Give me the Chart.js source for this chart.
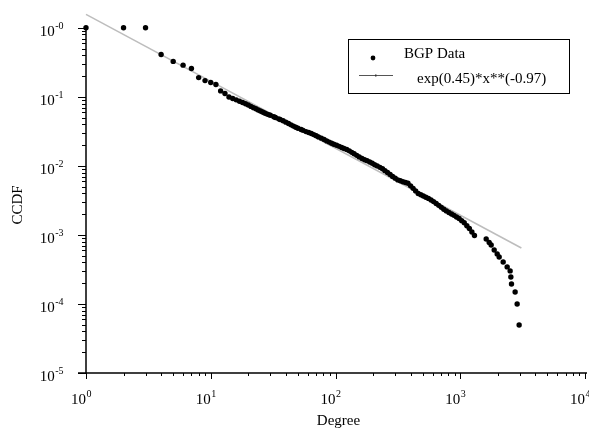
<!DOCTYPE html>
<html>
<head>
<meta charset="utf-8">
<script src="https://cdn.jsdelivr.net/npm/chart.js@4/dist/chart.umd.min.js"></script>
<style>
  body { margin: 0; background: #fff; }
  #wrap { width: 589px; height: 431px; }
</style>
</head>
<body>
<div id="wrap"><canvas id="ccdfChart" width="589" height="431"></canvas></div>
<script>
// BGP degree CCDF
const degree = [1, 2, 3, 4, 5, 6, 7, 8, 9, 10, 11, 12, 13, 14, 15, 16, 17, 18, 19, 20,
  21, 22, 23, 24, 25, 26, 27, 28, 29, 30, 32, 33, 35, 36, 38, 40, 42, 44, 46, 48, 50, 53, 55, 58,
  61, 64, 67, 70, 73, 77, 81, 85, 89, 93, 97, 102, 107, 112, 117, 123, 129, 135, 141, 148,
  155, 163, 171, 179, 188, 197, 206, 216, 227, 238, 249, 261, 274, 287, 301, 316, 331, 347,
  364, 381, 400, 419, 439, 460, 483, 506, 530, 556, 583, 611, 641, 672, 705, 738, 774, 811,
  851, 891, 934, 979, 1027, 1076, 1129, 1183, 1240, 1300,
  1614, 1706, 1770, 1871, 1977, 2051, 2208, 2377, 2512, 2545, 2575, 2754, 2858, 2965];
const ccdf = [1, 1, 1, 0.410, 0.326, 0.288, 0.257, 0.190, 0.172, 0.161, 0.151, 0.122, 0.112, 0.0993, 0.0945, 0.0905, 0.0864, 0.083, 0.0794, 0.076,
  0.0727, 0.0697, 0.0671, 0.0646, 0.0623, 0.0602, 0.0584, 0.0567, 0.0553, 0.054, 0.0514, 0.0501, 0.048, 0.047, 0.045, 0.043, 0.0411, 0.0393, 0.0377, 0.0362, 0.0351, 0.0336, 0.0327, 0.0314,
  0.0304, 0.0294, 0.0284, 0.0274, 0.0263, 0.0252, 0.0241, 0.0230, 0.0221, 0.0213, 0.0206, 0.0199, 0.0192, 0.0185, 0.0179, 0.0173, 0.0165, 0.0157, 0.0150, 0.0142,
  0.0135, 0.0128, 0.0123, 0.0119, 0.0114, 0.0109, 0.0104, 0.0100, 0.00952, 0.00907, 0.00853, 0.00802, 0.00751, 0.00704, 0.00664, 0.00627, 0.00608, 0.0059,
  0.00575, 0.0056, 0.00514, 0.00473, 0.00434, 0.00399, 0.00382, 0.00366, 0.00352, 0.00338, 0.0032, 0.00304, 0.00285, 0.00268, 0.00251, 0.00236, 0.00223, 0.00211,
  0.00201, 0.00192, 0.00182, 0.00173, 0.00161, 0.0015, 0.00136, 0.00124, 0.0011, 0.00098,
  0.000875, 0.000778, 0.000716, 0.000606, 0.000531, 0.00048, 0.000406, 0.000344, 0.000301, 0.000246, 0.000195, 0.000149, 0.0001, 0.0000496];

// fitted power law exp(0.45)*x**(-0.97), end points
const fitDegree = [1, 3090];
const fitCcdf = [1.568, 0.000646];

const xExponents = ['0', '1', '2', '3', '4'];
const yExponents = ['-0', '-1', '-2', '-3', '-4', '-5'];
const legendLabels = ['BGP Data', 'exp(0.45)*x**(-0.97)'];

const serif = '"Liberation Serif", "DejaVu Serif", serif';

function drawPow(ctx, x, y, exp, align) {
  // "10" with a raised exponent; x is the right edge (align 'right') or the tick position
  ctx.font = '15px ' + serif;
  const wBase = ctx.measureText('10').width;
  ctx.font = '10px ' + serif;
  const wExp = ctx.measureText(exp).width;
  let left;
  if (align === 'right') left = x - wBase - wExp;
  else left = x - wBase;
  ctx.textAlign = 'left';
  ctx.textBaseline = 'alphabetic';
  ctx.font = '15px ' + serif;
  ctx.fillText('10', left, y);
  ctx.font = '10px ' + serif;
  ctx.fillText(exp, left + wBase + 0.5, y - 7);
}

const axesPlugin = {
  id: 'axesPlugin',
  afterDatasetsDraw(chart) {
    const ctx = chart.ctx;
    const xs = chart.scales.x, ys = chart.scales.y;
    const x0 = xs.getPixelForValue(1);
    const x1 = xs.getPixelForValue(1e4);
    const yTop = ys.getPixelForValue(1);
    const yBot = ys.getPixelForValue(1e-5);
    ctx.save();
    ctx.strokeStyle = '#000';
    ctx.fillStyle = '#000';
    ctx.lineWidth = 1.5;
    ctx.beginPath();
    ctx.moveTo(x0, yTop); ctx.lineTo(x0, yBot);
    ctx.moveTo(x0 - 8, yBot); ctx.lineTo(x1 + 2, yBot);
    ctx.stroke();

    ctx.lineWidth = 1;
    ctx.beginPath();
    // x ticks
    for (let d = 0; d <= 4; d++) {
      const base = Math.pow(10, d);
      const px = Math.round(xs.getPixelForValue(base)) + 0.5;
      ctx.moveTo(px, yBot); ctx.lineTo(px, yBot + 6);
      if (d < 4) {
        for (let m = 2; m <= 9; m++) {
          const p = Math.round(xs.getPixelForValue(base * m)) + 0.5;
          ctx.moveTo(p, yBot); ctx.lineTo(p, yBot + 3);
        }
      }
    }
    // y ticks
    for (let d = 0; d >= -5; d--) {
      const base = Math.pow(10, d);
      const py = Math.round(ys.getPixelForValue(base)) + 0.5;
      ctx.moveTo(x0 - 8, py); ctx.lineTo(x0, py);
      if (d > -5) {
        for (let m = 2; m <= 9; m++) {
          const p = Math.round(ys.getPixelForValue(base * m / 10)) + 0.5;
          ctx.moveTo(x0 - 4, p); ctx.lineTo(x0, p);
        }
      }
    }
    ctx.stroke();

    // tick labels
    xExponents.forEach((e, i) => {
      drawPow(ctx, xs.getPixelForValue(Math.pow(10, i)), yBot + 31, e, 'tick');
    });
    yExponents.forEach((e, i) => {
      drawPow(ctx, 63, ys.getPixelForValue(Math.pow(10, -i)) + 8, e, 'right');
    });

    // axis titles
    ctx.font = '15px ' + serif;
    ctx.textAlign = 'center';
    ctx.textBaseline = 'middle';
    ctx.fillText('Degree', (x0 + x1) / 2 + 3, 421);
    ctx.save();
    ctx.translate(18, 205);
    ctx.rotate(-Math.PI / 2);
    ctx.fillText('CCDF', 0, 0);
    ctx.restore();

    // legend box
    ctx.lineWidth = 1;
    ctx.strokeRect(348.5, 39.5, 221, 54);
    ctx.beginPath();
    ctx.arc(373, 58, 2.4, 0, Math.PI * 2);
    ctx.fill();
    ctx.strokeStyle = '#555';
    ctx.beginPath();
    ctx.moveTo(359, 75.5); ctx.lineTo(393, 75.5);
    ctx.stroke();
    ctx.fillStyle = '#333';
    ctx.fillRect(375, 74.5, 1.5, 2);
    ctx.fillStyle = '#000';
    ctx.font = '15px ' + serif;
    ctx.textAlign = 'left';
    ctx.textBaseline = 'middle';
    ctx.fillText(legendLabels[0], 404, 54);
    ctx.fillText(legendLabels[1], 417, 79);
    ctx.restore();
  }
};

const ctx = document.getElementById('ccdfChart').getContext('2d');
const chart = new Chart(ctx, {
  type: 'scatter',
  data: {
    datasets: [
      {
        label: legendLabels[0],
        data: degree.map((d, i) => ({ x: d, y: ccdf[i] })),
        backgroundColor: '#000',
        borderColor: '#000',
        pointRadius: 2.7,
        pointBorderWidth: 0,
        showLine: false
      },
      {
        label: legendLabels[1],
        type: 'line',
        data: fitDegree.map((d, i) => ({ x: d, y: fitCcdf[i] })),
        borderColor: '#bdbdbd',
        borderWidth: 1.5,
        pointRadius: 0,
        fill: false
      }
    ]
  },
  options: {
    responsive: false,
    animation: false,
    clip: false,
    layout: { padding: { left: 86, right: 4, top: 14, bottom: 58 } },
    plugins: { legend: { display: false }, tooltip: { enabled: false } },
    scales: {
      x: { type: 'logarithmic', min: 1, max: 10000, display: false },
      y: { type: 'logarithmic', min: 1e-5, max: Math.pow(10, 0.2), display: false }
    }
  },
  plugins: [axesPlugin]
});
</script>
</body>
</html>
